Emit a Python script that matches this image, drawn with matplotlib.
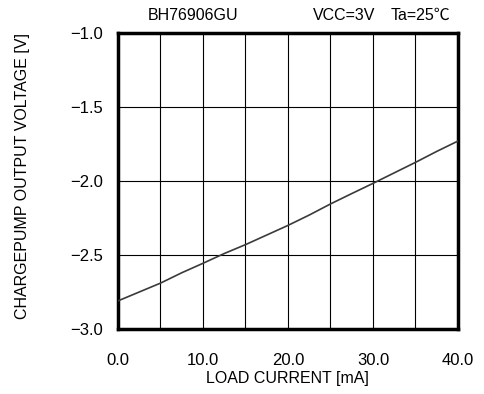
import numpy as np
import matplotlib.pyplot as plt

plt.rcParams['font.family'] = ['Liberation Sans', 'Noto Sans CJK JP', 'DejaVu Sans']

# load current [mA] vs chargepump output voltage [V]
load_ma = [0.0, 2.5, 5.0, 7.5, 10.0, 12.5, 15.0, 17.5, 20.0,
           22.5, 25.0, 27.5, 30.0, 32.5, 35.0, 37.5, 40.0]
vout = [-2.81, -2.75, -2.69, -2.62, -2.556, -2.49, -2.43, -2.365, -2.30,
        -2.23, -2.155, -2.085, -2.016, -1.945, -1.874, -1.80, -1.73]

fig = plt.figure(figsize=(4.85, 3.94), dpi=100)
ax = fig.add_axes([118 / 485, 1 - 329 / 394, 340 / 485, 296 / 394])

ax.plot(load_ma, vout, color='#3a3a3a', lw=1.2, zorder=3)

ax.set_xlim(0, 40)
ax.set_ylim(-3.0, -1.0)
ax.set_xticks(np.arange(0, 41, 10))
ax.set_xticks(np.arange(0, 41, 5), minor=True)
ax.set_yticks(np.arange(-3.0, -0.99, 0.5))
ax.set_xticklabels(['%.1f' % v for v in np.arange(0, 41, 10)])
ax.set_yticklabels(['\u2212%.1f' % abs(v) for v in np.arange(-3.0, -0.99, 0.5)])
ax.grid(True, which='both', color='black', lw=0.8)
ax.tick_params(which='both', length=0, labelsize=12)
ax.tick_params(axis='x', pad=17)
ax.tick_params(axis='y', pad=11)

for s in ax.spines.values():
    s.set_linewidth(2.5)

fig.text(287 / 485, 1 - 379 / 394, 'LOAD CURRENT [mA]', ha='center', va='center', fontsize=11.5)
fig.text(23 / 485, 1 - 176 / 394, 'CHARGEPUMP OUTPUT VOLTAGE [V]', ha='center', va='center',
         rotation=90, fontsize=11.5)

fig.text(193 / 485, 1 - 15.5 / 394, 'BH76906GU', ha='center', va='center', fontsize=11.5)
fig.text(344 / 485, 1 - 15.5 / 394, 'VCC=3V', ha='center', va='center', fontsize=11.5)
fig.text(421 / 485, 1 - 15.5 / 394, 'Ta=25\u2103', ha='center', va='center', fontsize=11.5)

fig.savefig('out.png', dpi=100)
